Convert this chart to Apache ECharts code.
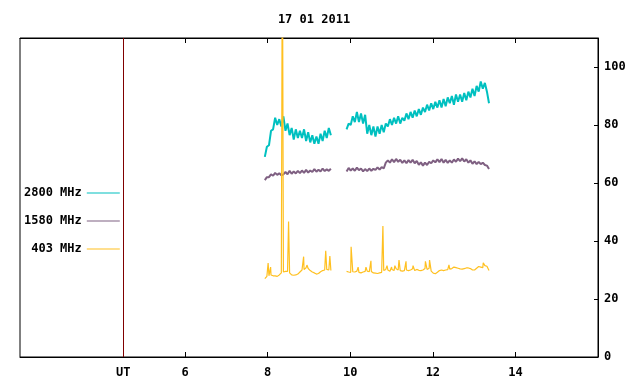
<!DOCTYPE html>
<html>
<head>
<meta charset="utf-8">
<script src="https://cdn.jsdelivr.net/npm/echarts@6/dist/echarts.min.js"></script>
<style>
  html, body { margin: 0; padding: 0; background: #fff; }
  #chart { width: 640px; height: 384px; }
</style>
</head>
<body>
<div id="chart"></div>
<script>
const FONT = '"DejaVu Sans Mono", "Liberation Mono", monospace';

// sample times (UT hours) of the two observing runs
const seg1Hours = [7.93, 7.98, 8.03, 8.08, 8.13, 8.18, 8.23, 8.28, 8.33, 8.38, 8.43, 8.48, 8.53, 8.58, 8.63, 8.68,
  8.73, 8.78, 8.83, 8.88, 8.93, 8.98, 9.03, 9.08, 9.13, 9.18, 9.23, 9.28, 9.33, 9.38, 9.43, 9.48, 9.53];
const seg2Hours = [9.91, 9.96, 10.01, 10.06, 10.11, 10.16, 10.21, 10.26, 10.31, 10.36, 10.41, 10.46, 10.51, 10.56,
  10.61, 10.66, 10.71, 10.76, 10.81, 10.86, 10.91, 10.96, 11.01, 11.06, 11.11, 11.16, 11.21, 11.26, 11.31, 11.36,
  11.41, 11.46, 11.51, 11.56, 11.61, 11.66, 11.71, 11.76, 11.81, 11.86, 11.91, 11.96, 12.01, 12.06, 12.11, 12.16,
  12.21, 12.26, 12.31, 12.36, 12.41, 12.46, 12.51, 12.56, 12.61, 12.66, 12.71, 12.76, 12.81, 12.86, 12.91, 12.96,
  13.01, 13.06, 13.11, 13.16, 13.21, 13.26, 13.31, 13.36];

// 2800 MHz
const f2800a = [69.0, 72.5, 73.0, 78.0, 78.5, 82.5, 80.0, 82.0, 79.5, 83.0, 78.0, 80.5, 76.5, 79.0, 75.0, 78.5,
  75.5, 78.0, 75.5, 78.5, 74.5, 77.5, 74.0, 76.5, 73.5, 76.0, 73.5, 77.0, 74.5, 78.0, 75.5, 79.0, 76.5];
const f2800b = [78.5, 80.5, 80.0, 83.0, 81.0, 84.5, 81.0, 84.0, 80.5, 83.5, 77.0, 80.0, 76.5, 79.5, 76.0, 79.5,
  77.0, 80.0, 77.5, 80.5, 79.5, 82.0, 80.0, 82.5, 80.5, 83.0, 80.5, 82.5, 81.5, 84.0, 82.0, 84.5, 82.5, 85.0,
  83.0, 85.5, 83.5, 86.0, 84.5, 87.0, 85.0, 87.5, 85.5, 88.0, 86.0, 88.5, 86.0, 89.0, 86.5, 89.5, 87.5, 90.0,
  87.0, 90.5, 88.0, 90.5, 88.0, 91.0, 88.5, 91.5, 89.5, 92.5, 90.0, 93.5, 91.5, 95.0, 92.5, 94.5, 91.5, 87.5];

// 1580 MHz
const f1580a = [61.0, 62.0, 62.0, 63.0, 62.5, 63.5, 62.8, 63.4, 62.6, 63.0, 63.8, 63.0, 64.2, 63.2, 64.0, 63.3,
  64.2, 63.4, 64.3, 63.5, 64.5, 63.6, 64.3, 63.8, 64.8, 63.9, 64.6, 64.0, 65.0, 64.1, 64.7, 64.2, 64.9];
const f1580b = [64.0, 65.2, 64.3, 65.0, 64.2, 65.3, 64.4, 65.0, 64.0, 64.8, 64.1, 65.0, 64.2, 64.9, 64.5, 65.4,
  64.6, 65.5, 65.0, 67.0, 67.8, 67.0, 68.2, 67.2, 68.3, 67.3, 68.0, 66.9, 67.8, 66.8, 67.9, 67.0, 68.0, 66.8,
  67.6, 66.3, 67.1, 66.0, 67.0, 66.2, 67.3, 66.8, 67.8, 67.1, 68.2, 67.2, 68.3, 67.0, 68.0, 66.9, 67.8, 67.0,
  68.1, 67.3, 68.4, 67.5, 68.5, 67.4, 68.2, 67.0, 67.8, 66.6, 67.5, 66.5, 67.3, 66.5, 67.0, 66.2, 66.0, 64.8];

// 403 MHz, background level plus the bursts
const f403a = [27.0, 27.8, 28.0, 28.3, 28.0, 28.0, 27.8, 28.3, 29.0, 29.3, 29.5, 29.5, 29.0, 28.3, 28.2, 28.3,
  28.6, 29.3, 30.0, 30.2, 30.8, 30.5, 29.8, 29.3, 29.0, 28.6, 28.8, 29.4, 29.8, 30.0, 30.2, 30.0, 29.8];
const f403b = [29.5, 29.3, 29.2, 29.4, 29.3, 29.6, 29.2, 29.0, 29.3, 29.5, 29.6, 29.4, 29.5, 29.0, 28.9, 28.8,
  29.0, 29.2, 29.8, 30.2, 30.0, 29.6, 30.2, 29.8, 30.4, 30.0, 29.8, 29.6, 29.8, 30.0, 29.8, 30.0, 30.4, 29.8,
  30.2, 29.9, 29.8, 30.0, 30.5, 30.2, 30.6, 29.6, 28.9, 28.7, 29.2, 29.8, 30.0, 29.8, 30.0, 30.1, 30.3, 30.5,
  31.0, 30.8, 30.6, 30.4, 30.3, 30.5, 30.7, 30.7, 30.5, 30.0, 30.0, 30.6, 31.2, 31.0, 30.8, 31.5, 31.3, 29.8];
const burstHours = [8.01, 8.07, 8.355, 8.505, 8.87, 8.95, 9.405, 9.505,
  10.02, 10.19, 10.38, 10.50, 10.79, 10.89, 11.00, 11.08, 11.18, 11.35, 11.52, 11.82, 11.92, 12.39, 13.22];
const burstValues = [32.4, 31.0, 150, 46.7, 34.6, 31.7, 36.6, 34.8,
  38.0, 31.0, 31.0, 33.2, 45.2, 31.5, 31.0, 31.5, 33.4, 33.0, 31.5, 33.0, 33.4, 31.8, 32.5];

const xTicks = [6, 8, 10, 12, 14];
const xLabels = [4.5, 6, 8, 10, 12, 14];
const yTicks = [0, 20, 40, 60, 80, 100];

function segment(hours, values, extraH, extraV) {
  const pts = hours.map((h, i) => [h, values[i]]);
  extraH.forEach((h, i) => {
    if (h >= hours[0] && h <= hours[hours.length - 1]) pts.push([h, extraV[i]]);
  });
  return pts.sort((a, b) => a[0] - b[0]);
}

function runs(a, b, extraH = [], extraV = []) {
  return segment(seg1Hours, a, extraH, extraV)
    .concat([[9.72, '-']], segment(seg2Hours, b, extraH, extraV));
}

const chart = echarts.init(document.getElementById('chart'));

const labelStyle = { fontFamily: FONT, fontSize: 12, fontWeight: 'bold', color: '#000' };
const axisLine = { show: true, lineStyle: { color: '#000', width: 1 } };

chart.setOption({
  animation: false,
  backgroundColor: '#fff',
  title: {
    text: '17 01 2011',
    left: 309, top: 9, textAlign: 'center',
    textStyle: { fontFamily: FONT, fontSize: 12, fontWeight: 'bold', color: '#000' }
  },
  legend: {
    orient: 'vertical',
    left: 19, top: 182,
    align: 'right',
    icon: 'rect',
    itemWidth: 33, itemHeight: 1,
    itemGap: 16,
    textStyle: labelStyle,
    data: ['2800 MHz', '1580 MHz', '403 MHz']
  },
  grid: {
    left: 20, right: 42, top: 38, bottom: 27,
    show: true, borderColor: '#000', borderWidth: 1
  },
  xAxis: [{
    type: 'value', min: 2, max: 16, position: 'bottom',
    axisLine,
    axisTick: { inside: true, length: 5, customValues: xTicks, lineStyle: { color: '#000' } },
    axisLabel: Object.assign({ margin: 10, customValues: xLabels,
      formatter: v => v === 4.5 ? '{ut|UT}' : String(v),
      rich: { ut: { fontFamily: FONT, fontSize: 12, fontWeight: 'bold', color: '#000', padding: [0, 0, 4, 0] } }
    }, labelStyle),
    splitLine: { show: false }
  }, {
    type: 'value', min: 2, max: 16, position: 'top',
    axisLine,
    axisTick: { inside: true, length: 5, customValues: xTicks, lineStyle: { color: '#000' } },
    axisLabel: { show: false },
    splitLine: { show: false }
  }],
  yAxis: {
    type: 'value', min: 0, max: 110, position: 'right',
    axisLine,
    axisTick: { inside: true, length: 4, customValues: yTicks, lineStyle: { color: '#000' } },
    axisLabel: Object.assign({ margin: 6, customValues: yTicks }, labelStyle),
    splitLine: { show: false }
  },
  series: [{
    name: '2800 MHz', type: 'line',
    data: runs(f2800a, f2800b),
    showSymbol: false, connectNulls: false,
    color: '#00c0c0', lineStyle: { width: 2 },
    markLine: {
      silent: true, symbol: 'none', label: { show: false },
      lineStyle: { color: '#800000', width: 1, type: 'solid' },
      data: [{ xAxis: 4.5 }]
    }
  }, {
    name: '1580 MHz', type: 'line',
    data: runs(f1580a, f1580b),
    showSymbol: false, connectNulls: false,
    color: '#7f6082', lineStyle: { width: 2 }
  }, {
    name: '403 MHz', type: 'line',
    data: runs(f403a, f403b, burstHours, burstValues),
    showSymbol: false, connectNulls: false,
    color: '#ffc020', lineStyle: { width: 1.2 }
  }]
});
</script>
</body>
</html>
